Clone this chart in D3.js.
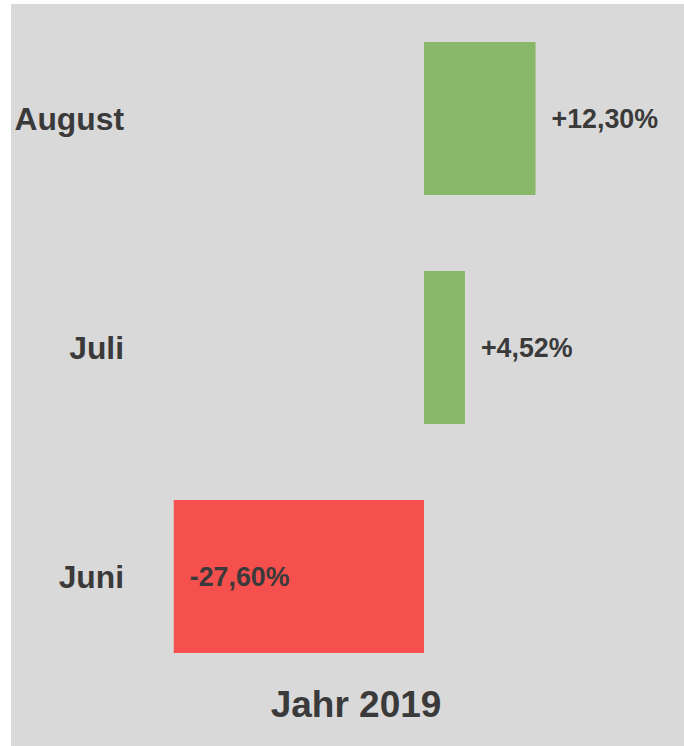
<!DOCTYPE html>
<html>
<head>
<meta charset="utf-8">
<script src="https://cdn.jsdelivr.net/npm/d3@7"></script>
<style>
  body { margin: 0; background: #fff; }
  text { font-family: "Liberation Sans", Arial, sans-serif; font-weight: bold; fill: #3a3a3a; }
</style>
</head>
<body>
<div id="chart"></div>
<script>
// months, top to bottom
var months = ["August", "Juli", "Juni"]
var changes = [12.30, 4.52, -27.60]
var title = "Jahr 2019"

var width = 684
var height = 746

var svg = d3.select("#chart").append("svg")
  .attr("width", width)
  .attr("height", height)

svg.append("rect")
  .attr("x", 11).attr("y", 4)
  .attr("width", width - 11).attr("height", height - 4)
  .attr("fill", "#d9d9d9")

var x = d3.scaleLinear().domain([-30, 15]).range([152, 560])
var y = d3.scaleBand().domain(months).range([4, 691]).paddingInner(0.332).paddingOuter(0.166)

var rows = months.map(function (m, i) { return { month: m, value: changes[i] } })

function fmt(v) {
  var s = Math.abs(v).toFixed(2).replace(".", ",") + "%"
  return (v >= 0 ? "+" : "-") + s
}

svg.append("g").selectAll("rect")
  .data(rows)
  .enter().append("rect")
    .attr("x", function (d) { return x(Math.min(0, d.value)) })
    .attr("y", function (d) { return y(d.month) })
    .attr("width", function (d) { return Math.abs(x(d.value) - x(0)) })
    .attr("height", y.bandwidth())
    .attr("fill", function (d) { return d.value >= 0 ? "#89b86a" : "#f54f4e" })

svg.append("g").selectAll("text")
  .data(rows)
  .enter().append("text")
    .attr("x", 124)
    .attr("y", function (d) { return y(d.month) + y.bandwidth() / 2 })
    .attr("dy", "0.35em")
    .attr("text-anchor", "end")
    .attr("font-size", 31.8)
    .text(function (d) { return d.month })

// value labels: after the bar for gains, inside the bar for losses
svg.append("g").selectAll("text")
  .data(rows)
  .enter().append("text")
    .attr("x", function (d) { return x(d.value) + 16 })
    .attr("y", function (d) { return y(d.month) + y.bandwidth() / 2 })
    .attr("dy", "0.35em")
    .attr("font-size", 26.8)
    .text(function (d) { return fmt(d.value) })

svg.append("text")
  .attr("x", (x.range()[0] + x.range()[1]) / 2)
  .attr("y", 717)
  .attr("text-anchor", "middle")
  .attr("font-size", 37)
  .text(title)
</script>
</body>
</html>
